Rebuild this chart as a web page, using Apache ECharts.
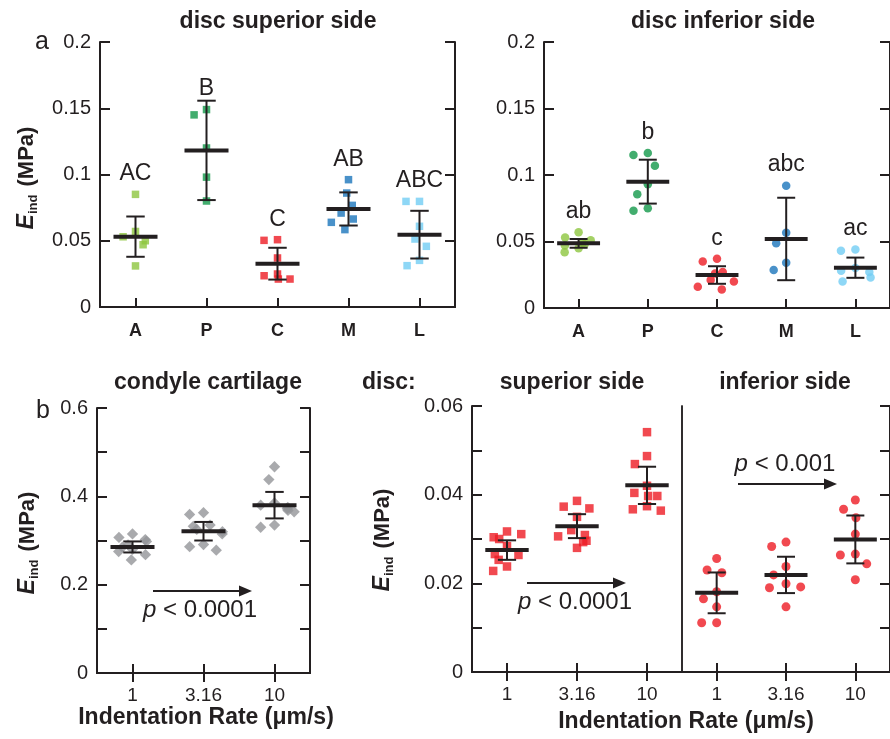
<!DOCTYPE html>
<html>
<head>
<meta charset="utf-8">
<script src="https://cdn.jsdelivr.net/npm/echarts@6/dist/echarts.min.js"></script>
<style>
  html, body { margin: 0; padding: 0; background: #fff; }
  #chart { width: 890px; height: 739px; }
</style>
</head>
<body>
<div id="chart"></div>
<script>
// ---- data ----
const regions = ['A', 'P', 'C', 'M', 'L'];
const regionColors = ['#8dc63f', '#13994a', '#ed1c24', '#1c75bc', '#72cdf4'];
const aTicks = ['0', '0.05', '0.1', '0.15', '0.2'];

// disc superior side (squares)
const supPoints = [
  [0.085, 0.057, 0.053, 0.050, 0.047, 0.031],
  [0.149, 0.145, 0.120, 0.098, 0.080],
  [0.0508, 0.0503, 0.037, 0.0249, 0.0236, 0.0211, 0.0211],
  [0.0961, 0.086, 0.0767, 0.0709, 0.0664, 0.0639, 0.0584],
  [0.0797, 0.0797, 0.0609, 0.0513, 0.0458, 0.0352, 0.0312]
];
const supMean = [0.0531, 0.1182, 0.0327, 0.074, 0.0546];
const supErr = [0.0152, 0.0375, 0.012, 0.0125, 0.018];
const supLetters = ['AC', 'B', 'C', 'AB', 'ABC'];

// disc inferior side (circles)
const infPoints = [
  [0.057, 0.053, 0.051, 0.049, 0.048, 0.047, 0.045, 0.042],
  [0.1165, 0.115, 0.107, 0.093, 0.0855, 0.075, 0.0732],
  [0.037, 0.035, 0.027, 0.026, 0.021, 0.020, 0.016, 0.014],
  [0.092, 0.0566, 0.0487, 0.0341, 0.0286],
  [0.044, 0.043, 0.030, 0.028, 0.027, 0.023, 0.020]
];
const infMean = [0.0486, 0.095, 0.0248, 0.0519, 0.0303];
const infErr = [0.0033, 0.0165, 0.0066, 0.031, 0.0076];
const infLetters = ['ab', 'b', 'c', 'abc', 'ac'];

// indentation rate panels
const rates = ['1', '3.16', '10'];
const condTicks = ['0', '0.2', '0.4', '0.6'];
const discTicks = ['0', '0.02', '0.04', '0.06'];

const condPoints = [
  [0.315, 0.307, 0.302, 0.298, 0.290, 0.285, 0.280, 0.275, 0.268, 0.256],
  [0.363, 0.359, 0.335, 0.332, 0.325, 0.320, 0.315, 0.291, 0.286, 0.278],
  [0.467, 0.438, 0.385, 0.380, 0.375, 0.372, 0.368, 0.365, 0.335, 0.330]
];
const condMean = [0.2854, 0.321, 0.380];
const condErr = [0.0125, 0.021, 0.03];

const discSupPoints = [
  [0.0317, 0.0311, 0.0304, 0.0300, 0.0284, 0.0266, 0.0264, 0.0253, 0.0238, 0.0228],
  [0.0386, 0.0373, 0.0369, 0.0350, 0.0320, 0.0309, 0.0306, 0.0296, 0.0293, 0.0280],
  [0.0541, 0.0487, 0.0469, 0.0420, 0.0404, 0.0397, 0.0397, 0.0374, 0.0367, 0.0364]
];
const discSupMean = [0.0275, 0.0329, 0.0421];
const discSupErr = [0.0022, 0.0027, 0.0042];

const discInfPoints = [
  [0.0256, 0.0230, 0.0224, 0.0181, 0.0165, 0.0147, 0.0111, 0.0111],
  [0.0293, 0.0283, 0.0238, 0.0219, 0.0199, 0.0192, 0.0190, 0.0147],
  [0.0388, 0.0367, 0.0348, 0.0311, 0.0266, 0.0264, 0.0244, 0.0208]
];
const discInfMean = [0.01785, 0.0219, 0.0299];
const discInfErr = [0.0046, 0.0041, 0.0054];

// ---- chart ----
const FONT = 'Liberation Sans, Arial, sans-serif';
const INK = '#231f20';
const chart = echarts.init(document.getElementById('chart'));

const grids = [
  { left: 100, top: 42, width: 355, height: 265 },
  { left: 544, top: 42, width: 355, height: 266 },
  { left: 97, top: 408, width: 213, height: 265 },
  { left: 472, top: 406, width: 210, height: 266 },
  { left: 682, top: 406, width: 210, height: 266 }
];

const xAxes = [];
const yAxes = [];
const series = [];

function tickLabel(list) {
  return function (v) {
    const hit = list.find(t => Math.abs(parseFloat(t) - v) < 1e-9);
    return hit === undefined ? '' : hit;
  };
}

function addAxes(g, cats, boldCats, topTicks, y, leftOpt, rightOpt) {
  const line = { show: true, lineStyle: { color: INK, width: 2 } };
  xAxes.push({
    gridIndex: g, type: 'category', data: cats, position: 'bottom',
    jitter: 40, jitterOverlap: false, jitterMargin: 6,
    axisLine: line,
    axisTick: { show: true, inside: true, alignWithLabel: true, length: 9, lineStyle: { color: INK, width: 2 } },
    axisLabel: { color: INK, fontFamily: FONT, fontSize: boldCats ? 18 : 19, fontWeight: boldCats ? 'bold' : 'normal', margin: boldCats ? 15 : 13 },
    splitLine: { show: false }
  });
  xAxes.push({
    gridIndex: g, type: 'category', data: cats, position: 'top',
    axisLine: line,
    axisTick: { show: topTicks, inside: true, alignWithLabel: true, length: 9, lineStyle: { color: INK, width: 2 } },
    axisLabel: { show: false }, splitLine: { show: false }
  });
  yAxes.push({
    gridIndex: g, type: 'value', position: 'left', min: y.min, max: y.max, interval: y.interval,
    axisLine: { show: true, lineStyle: { color: INK, width: leftOpt.lineWidth || 2 } },
    axisTick: { show: leftOpt.ticks, inside: true, length: 10, lineStyle: { color: INK, width: 2 } },
    axisLabel: { show: leftOpt.labels, color: INK, fontFamily: FONT, fontSize: 20, margin: 9, formatter: tickLabel(y.labels) },
    splitLine: { show: false }
  });
  yAxes.push({
    gridIndex: g, type: 'value', position: 'right', min: y.min, max: y.max, interval: y.interval,
    axisLine: { show: true, lineStyle: { color: INK, width: rightOpt.lineWidth || 2 } },
    axisTick: { show: rightOpt.ticks, inside: true, length: 10, lineStyle: { color: INK, width: 2 } },
    axisLabel: { show: false }, splitLine: { show: false }
  });
}

function meanErrItem(params, api) {
  const x = api.value(0), m = api.value(1), e = api.value(2);
  const c = api.coord([x, m]);
  const hi = api.coord([x, m + e]);
  const lo = api.coord([x, m - e]);
  const band = api.size([1, 0])[0];
  const hw = band * 0.31, cw = band * 0.13;
  const thin = { stroke: INK, lineWidth: 2 };
  return {
    type: 'group',
    children: [
      { type: 'line', shape: { x1: c[0], y1: hi[1], x2: c[0], y2: lo[1] }, style: thin },
      { type: 'line', shape: { x1: c[0] - cw, y1: hi[1], x2: c[0] + cw, y2: hi[1] }, style: thin },
      { type: 'line', shape: { x1: c[0] - cw, y1: lo[1], x2: c[0] + cw, y2: lo[1] }, style: thin },
      { type: 'line', shape: { x1: c[0] - hw, y1: c[1], x2: c[0] + hw, y2: c[1] }, style: { stroke: INK, lineWidth: 4 } }
    ]
  };
}

function addPanel(g, points, means, errs, colors, symbol, size, rotate) {
  const data = [];
  points.forEach((list, i) => {
    list.forEach(v => data.push({ value: [i, v], itemStyle: { color: colors[i] } }));
  });
  series.push({
    type: 'scatter', xAxisIndex: g * 2, yAxisIndex: g * 2,
    symbol: symbol, symbolSize: size, symbolRotate: rotate || 0,
    data: data, silent: true, z: 2
  });
  series.push({
    type: 'custom', xAxisIndex: g * 2, yAxisIndex: g * 2,
    renderItem: meanErrItem, silent: true, z: 3,
    data: means.map((m, i) => [i, m, errs[i]])
  });
}

function addLetters(g, points, letters) {
  series.push({
    type: 'custom', xAxisIndex: g * 2, yAxisIndex: g * 2, silent: true, z: 4,
    data: points.map((list, i) => [i, Math.max.apply(null, list), i]),
    renderItem: function (params, api) {
      const p = api.coord([api.value(0), api.value(1)]);
      return {
        type: 'text', x: p[0], y: p[1] - 9,
        style: {
          text: letters[api.value(2)], fill: INK, fontFamily: FONT, fontSize: 23,
          align: 'center', verticalAlign: 'bottom', textAlign: 'center', textVerticalAlign: 'bottom'
        }
      };
    }
  });
}

const aY = { min: 0, max: 0.2, interval: 0.05, labels: aTicks };
const condY = { min: 0, max: 0.6, interval: 0.1, labels: condTicks };
const discY = { min: 0, max: 0.06, interval: 0.01, labels: discTicks };
const red3 = ['#ed1c24', '#ed1c24', '#ed1c24'];
const gray3 = ['#939598', '#939598', '#939598'];

addAxes(0, regions, true, false, aY, { ticks: true, labels: true }, { ticks: true });
addAxes(1, regions, true, false, aY, { ticks: true, labels: true }, { ticks: true });
addAxes(2, rates, false, true, condY, { ticks: true, labels: true }, { ticks: true });
addAxes(3, rates, false, true, discY, { ticks: true, labels: true }, { ticks: false, lineWidth: 1.5 });
addAxes(4, rates, false, true, discY, { ticks: false, labels: false, lineWidth: 1.5 }, { ticks: true });

addPanel(0, supPoints, supMean, supErr, regionColors, 'rect', 7.5);
addPanel(1, infPoints, infMean, infErr, regionColors, 'circle', 8.5);
addPanel(2, condPoints, condMean, condErr, gray3, 'rect', 8, 45);
addPanel(3, discSupPoints, discSupMean, discSupErr, red3, 'rect', 8.5);
addPanel(4, discInfPoints, discInfMean, discInfErr, red3, 'circle', 9);
addLetters(0, supPoints, supLetters);
addLetters(1, infPoints, infLetters);

function txt(x, y, text, size, weight, align) {
  return {
    type: 'text', x: x, y: y,
    style: {
      text: text, fill: INK, fontFamily: FONT, fontSize: size, fontWeight: weight || 'normal',
      align: align || 'center', verticalAlign: 'middle', textAlign: align || 'center', textVerticalAlign: 'middle'
    }
  };
}

function yName(x, y) {
  return {
    type: 'text', x: x, y: y, rotation: Math.PI / 2,
    style: {
      text: '{e|E}{s|ind}{t| (MPa)}', fill: INK, fontFamily: FONT,
      align: 'center', verticalAlign: 'middle', textAlign: 'center', textVerticalAlign: 'middle',
      rich: {
        e: { fontSize: 23, fontWeight: 'bold', fontStyle: 'italic', fontFamily: FONT, fill: INK, lineHeight: 26, verticalAlign: 'middle' },
        s: { fontSize: 13, fontWeight: 'bold', fontFamily: FONT, fill: INK, lineHeight: 26, verticalAlign: 'bottom', padding: [0, 2, 0, 0] },
        t: { fontSize: 22, fontWeight: 'bold', fontFamily: FONT, fill: INK, lineHeight: 26, verticalAlign: 'middle' }
      }
    }
  };
}

function pText(x, y, rest) {
  return {
    type: 'text', x: x, y: y,
    style: {
      text: '{p|p}{r| < ' + rest + '}', fill: INK, fontFamily: FONT,
      align: 'center', verticalAlign: 'middle', textAlign: 'center', textVerticalAlign: 'middle',
      rich: {
        p: { fontSize: 24, fontStyle: 'italic', fontFamily: FONT, fill: INK },
        r: { fontSize: 24, fontFamily: FONT, fill: INK }
      }
    }
  };
}

function arrow(x1, x2, y) {
  return {
    type: 'group',
    children: [
      { type: 'line', shape: { x1: x1, y1: y, x2: x2 - 8, y2: y }, style: { stroke: INK, lineWidth: 2 } },
      { type: 'polygon', shape: { points: [[x2, y], [x2 - 13, y - 5.5], [x2 - 13, y + 5.5]] }, style: { fill: INK } }
    ]
  };
}

chart.setOption({
  backgroundColor: '#ffffff',
  animation: false,
  grid: grids,
  xAxis: xAxes,
  yAxis: yAxes,
  series: series,
  graphic: [
    txt(42, 42, 'a', 25),
    txt(43, 411, 'b', 25),
    txt(278, 22, 'disc superior side', 23, 'bold'),
    txt(723, 22, 'disc inferior side', 23, 'bold'),
    txt(208, 383, 'condyle cartilage', 23, 'bold'),
    txt(362, 383, 'disc:', 23, 'bold', 'left'),
    txt(572, 383, 'superior side', 23, 'bold'),
    txt(785, 383, 'inferior side', 23, 'bold'),
    txt(206, 718, 'Indentation Rate (\u03bcm/s)', 23, 'bold'),
    txt(686, 722, 'Indentation Rate (\u03bcm/s)', 23, 'bold'),
    yName(27, 178),
    yName(28, 543),
    yName(383, 540),
    arrow(153, 252, 591),
    arrow(527, 626, 583),
    arrow(738, 837, 484),
    pText(200, 610, '0.0001'),
    pText(575, 602, '0.0001'),
    pText(785, 464, '0.001')
  ]
});
</script>
</body>
</html>
